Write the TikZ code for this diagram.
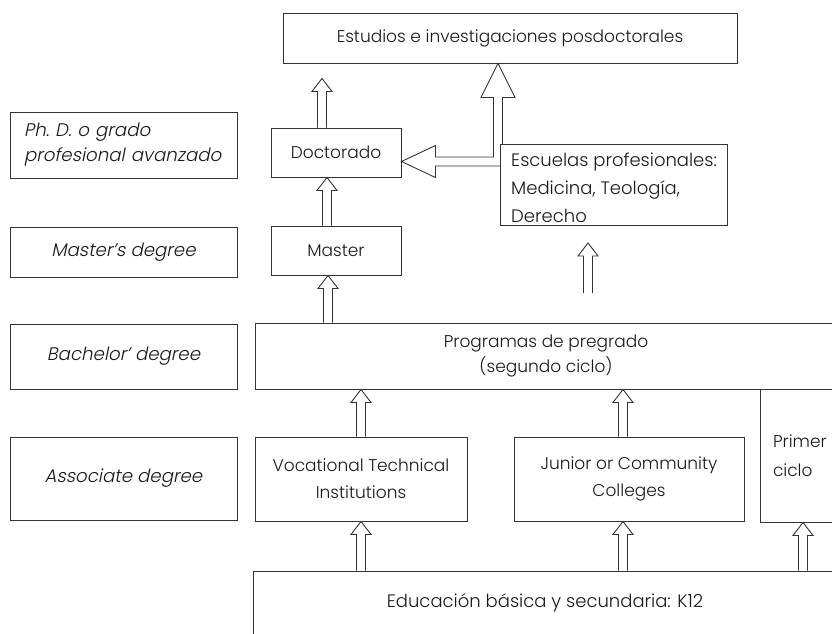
\documentclass[tikz,border=0pt]{standalone}
\usepackage{fontspec}
\setmainfont{Poppins Light}
\newfontfamily\itfont{Poppins Light}[FakeSlant=0.2]
\usetikzlibrary{calc}
\definecolor{linec}{HTML}{333333}
\definecolor{textc}{HTML}{1a1a1a}
\tikzset{
  box/.style={draw=linec, line width=0.9pt, fill=white, inner sep=0pt, align=center,
    font=\fontsize{17}{27}\selectfont, text=textc},
  lbox/.style={box, font=\itfont\fontsize{18.2}{25}\selectfont},
  txt/.style={inner sep=0pt, text=textc, align=left},
  harrow/.style={draw=linec, line width=0.9pt, fill=white, line join=miter},
}
\newcommand\harr[2]{\draw[harrow] let \p1=#1, \p2=#2 in
  (\x1-4.5pt,\y1) -- (\x1-4.5pt,\y2-13pt) -- (\x1-10pt,\y2-13pt) -- (\x1,\y2)
  -- (\x1+10pt,\y2-13pt) -- (\x1+4.5pt,\y2-13pt) -- (\x1+4.5pt,\y1);}
\begin{document}
\begin{tikzpicture}[x=1pt,y=-1pt]
\useasboundingbox (0,0) rectangle (832,633);
\clip (0,0) rectangle (832,633);
% left labels
\node[lbox, minimum width=227pt, minimum height=66pt, text width=199pt, align=left] (phd) at (123.5,145) {Ph.\ D. o grado\\profesional avanzado};
\node[lbox, minimum width=227pt, minimum height=50pt] (msd) at (123.5,252) {Master’s degree};
\node[lbox, minimum width=227pt, minimum height=65pt] (bad) at (123.5,356.5) {Bachelor’ degree};
\node[lbox, minimum width=227pt, minimum height=83pt] (asd) at (123.5,478.5) {Associate degree};
% main boxes
\node[box, minimum width=454pt, minimum height=50pt] (top) at (510,38) {Estudios e investigaciones posdoctorales};
\node[box, minimum width=130pt, minimum height=49pt] (doc) at (336,152.5) {Doctorado};
\node[box, minimum width=130pt, minimum height=49pt] (mas) at (336,250.5) {Master};
\node[box, minimum width=582pt, minimum height=66pt, font=\fontsize{17}{25}\selectfont] (prog) at (546,356) {Programas de pregrado\\(segundo ciclo)};
\node[box, minimum width=212pt, minimum height=84pt] (voc) at (361,479) {Vocational Technical\\Institutions};
\node[box, minimum width=230pt, minimum height=84pt] (jun) at (629,479) {Junior or Community\\Colleges};
\node[box, minimum width=86pt, minimum height=133pt, text width=60pt, align=left, font=\fontsize{17}{29}\selectfont] (pri) at (803,455.5) {Primer\\ciclo};
\node[box, minimum width=584pt, minimum height=64pt, font=\fontsize{18}{27}\selectfont] (k12) at (545,603) {Educación básica y secundaria: K12};
% bent arrow from Escuelas
\coordinate (bend) at (498,161.5);
\draw[harrow] let \p1=(doc.east), \p2=(bend), \p3=(top.south), \p4=(500,166), \p5=(500,144) in
  (\x4,\y2-4.5pt) -- (\x1+34pt,\y2-4.5pt) -- (\x1+34pt,\y2-16pt) -- (\x1,\y2)
  -- (\x1+34pt,\y2+16pt) -- (\x1+34pt,\y2+4.5pt) -- (\x2-4.5pt,\y2+4.5pt)
  -- (\x2-4.5pt,\y3-34pt) -- (\x2-17pt,\y3-34pt) -- (\x2,\y3) -- (\x2+17pt,\y3-34pt)
  -- (\x2+4.5pt,\y3-34pt) -- (\x2+4.5pt,\y5);
\node[box, minimum width=227pt, minimum height=81pt] (esc) at (613.5,184.5) {};
\node[txt, anchor=north west, font=\fontsize{18}{28}\selectfont] (esctxt) at (511,152.5) {Escuelas profesionales:\\Medicina, Teología,\\Derecho};
% block arrows
\harr{([xshift=-14pt]doc.north)}{([yshift=-15pt]top.south)}
\harr{([xshift=-9pt]mas.north)}{(doc.south)}
\harr{([xshift=-8pt]prog.north -| mas.south)}{(mas.south)}
\harr{(voc.north)}{(prog.south)}
\harr{([xshift=-6pt]jun.north)}{(prog.south)}
\harr{(k12.north -| voc.south)}{(voc.south)}
\harr{([xshift=-6pt]k12.north -| jun.south)}{(jun.south)}
\harr{(k12.north -| pri.south)}{(pri.south)}
\coordinate (f1) at (588,293);
\coordinate (f2) at (588,243);
\harr{(f1)}{(f2)}
\end{tikzpicture}
\end{document}
